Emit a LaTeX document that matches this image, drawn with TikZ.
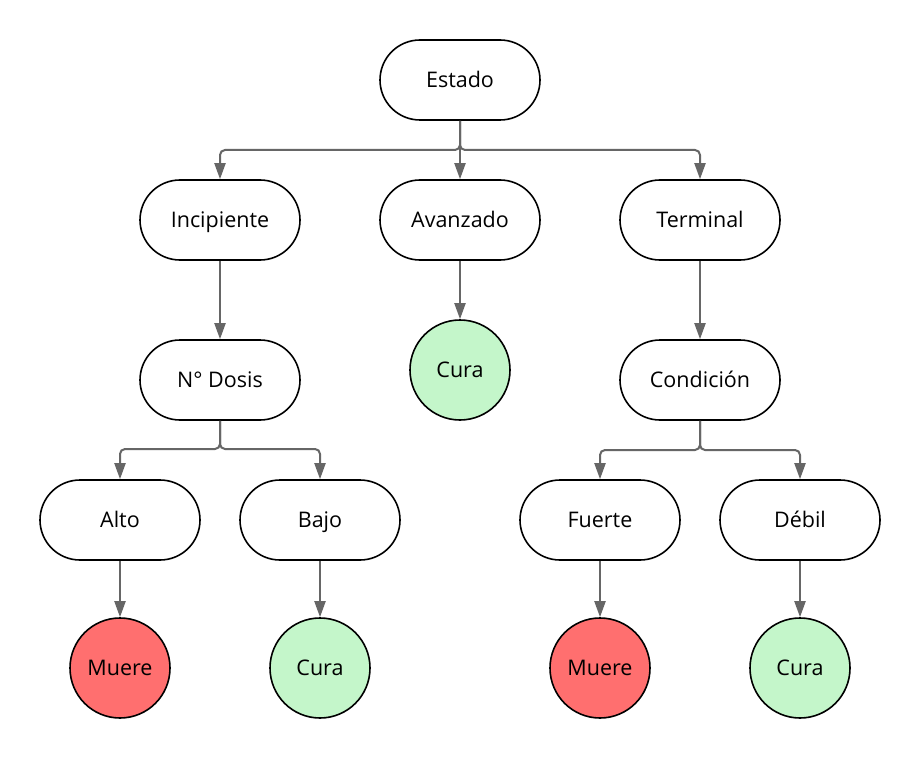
\documentclass[tikz,border=0pt]{standalone}
\usepackage{fontspec}
\setmainfont{Open Sans}
\usetikzlibrary{arrows.meta}
\definecolor{linegray}{HTML}{666666}
\definecolor{deathred}{HTML}{FF6F6F}
\definecolor{curegreen}{HTML}{C4F6CA}
\begin{document}
\begin{tikzpicture}[x=1pt,y=-1pt,
  txt/.style={font=\fontsize{21.5}{26}\selectfont,text height=20.4pt,text depth=5pt},
  pill/.style={txt,draw=black,line width=1.6pt,fill=white,rounded corners=40pt,minimum width=160pt,minimum height=80pt,inner sep=0pt},
  leaf/.style={txt,draw=black,line width=1.6pt,circle,minimum size=100pt,inner sep=0pt},
  conn/.style={draw=linegray,line width=2pt,rounded corners=5pt,-{Triangle[length=16pt,width=11pt]}}]
\useasboundingbox[fill=white] (0,0) rectangle (920,759);
\node[pill] (estado) at (460,80) {Estado};
\node[pill] (incip) at (220,220) {Incipiente};
\node[pill] (avanz) at (460,220) {Avanzado};
\node[pill] (term) at (700,220) {Terminal};
\node[pill] (dosis) at (220,380) {N° Dosis};
\node[leaf,fill=curegreen] (cura1) at (460,370) {Cura};
\node[pill] (cond) at (700,380) {Condición};
\node[pill] (alto) at (120,520) {Alto};
\node[pill] (bajo) at (320,520) {Bajo};
\node[pill] (fuerte) at (600,520) {Fuerte};
\node[pill] (debil) at (800,520) {Débil};
\node[leaf,fill=deathred] (muere1) at (120,668) {Muere};
\node[leaf,fill=curegreen] (cura2) at (320,668) {Cura};
\node[leaf,fill=deathred] (muere2) at (600,668) {Muere};
\node[leaf,fill=curegreen] (cura3) at (800,668) {Cura};
\coordinate (j1) at (460,150);
\coordinate (j2) at (220,449);
\coordinate (j3) at (700,450);
\draw[conn] (estado.south) -- (j1) -| (incip.north);
\draw[conn] (estado.south) -- (j1) -| (term.north);
\draw[conn] (estado.south) -- (avanz.north);
\draw[conn] (incip.south) -- (dosis.north);
\draw[conn] (avanz.south) -- (cura1.north);
\draw[conn] (term.south) -- (cond.north);
\draw[conn] (dosis.south) -- (j2) -| (alto.north);
\draw[conn] (dosis.south) -- (j2) -| (bajo.north);
\draw[conn] (cond.south) -- (j3) -| (fuerte.north);
\draw[conn] (cond.south) -- (j3) -| (debil.north);
\draw[conn] (alto.south) -- (muere1.north);
\draw[conn] (bajo.south) -- (cura2.north);
\draw[conn] (fuerte.south) -- (muere2.north);
\draw[conn] (debil.south) -- (cura3.north);
\end{tikzpicture}
\end{document}
